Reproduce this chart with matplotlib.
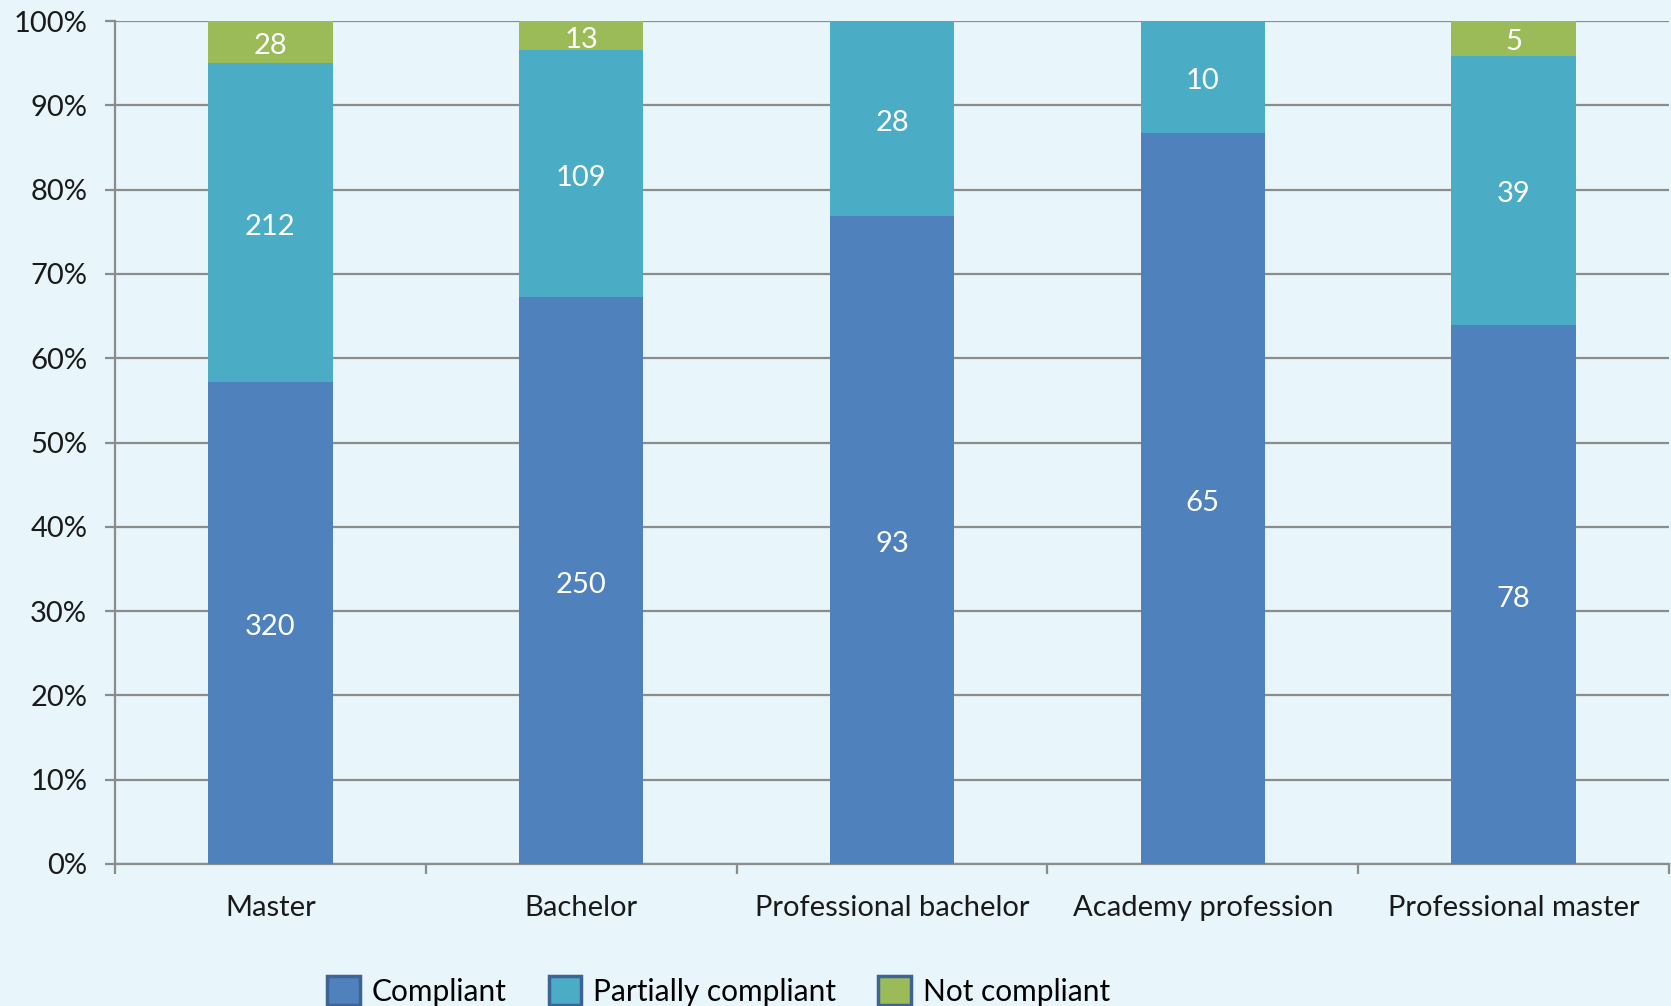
import matplotlib
matplotlib.use("Agg")
import matplotlib.pyplot as plt
import numpy as np
from matplotlib.patches import Patch

categories = ["Master", "Bachelor", "Professional bachelor", "Academy profession", "Professional master"]
compliant = [320, 250, 93, 65, 78]
partially = [212, 109, 28, 10, 39]
not_compliant = [28, 13, 0, 0, 5]
series_names = ["Compliant", "Partially compliant", "Not compliant"]
y_ticks = [0, 10, 20, 30, 40, 50, 60, 70, 80, 90, 100]

colors = ["#4F81BD", "#4BACC6", "#9BBB59"]
bg = "#E8F5FA"

plt.rcParams["font.family"] = ["Lato", "DejaVu Sans"]

fig = plt.figure(figsize=(16.71, 10.06), dpi=100, facecolor=bg)
ax = fig.add_axes([115 / 1671, 1 - 864 / 1006, (1669 - 115) / 1671, (864 - 21) / 1006])
ax.set_facecolor("none")

data = np.array([compliant, partially, not_compliant], dtype=float)
totals = data.sum(axis=0)
pct = data / totals * 100

x = np.arange(len(categories))
bottom = np.zeros(len(categories))
for i, name in enumerate(series_names):
    ax.bar(x, pct[i], 0.4, bottom=bottom, color=colors[i], label=name, zorder=3)
    for j in range(len(categories)):
        if data[i, j] > 0:
            # nudge labels down a little, like the original's text centring
            ax.annotate(f"{int(data[i, j])}", (x[j], bottom[j] + pct[i, j] / 2),
                        xytext=(0, -3), textcoords="offset points",
                        ha="center", va="center", color="white", fontsize=21, zorder=4)
    bottom += pct[i]

ax.set_ylim(0, 100)
ax.set_xlim(-0.5, len(categories) - 0.5)
ax.set_yticks(y_ticks)
ax.set_yticklabels([f"{t}%" for t in y_ticks])
ax.yaxis.grid(True, color="#8c8c8c", linewidth=1.6, zorder=1)
ax.set_axisbelow(True)

ax.set_xticks(x)
ax.set_xticklabels(categories)
ax.set_xticks(np.arange(-0.5, len(categories)), minor=True)
ax.tick_params(axis="x", which="major", length=0, pad=22, labelsize=21, colors="#1a1a1a")
ax.tick_params(axis="x", which="minor", length=7, width=1.6, color="#8c8c8c")
ax.tick_params(axis="y", length=7, width=1.6, color="#8c8c8c", pad=13, labelsize=21,
               labelcolor="#1a1a1a")

for side in ["top", "right"]:
    ax.spines[side].set_visible(False)
for side in ["left", "bottom"]:
    ax.spines[side].set_color("#8c8c8c")
    ax.spines[side].set_linewidth(1.6)

handles = [Patch(facecolor=c, edgecolor="#3d6495", linewidth=2.5) for c in colors]
fig.legend(handles, series_names, loc="center", bbox_to_anchor=(0.430, 1 - 991 / 1006),
           ncol=3, frameon=False, fontsize=21.5, handlelength=1.1, handleheight=1.1,
           handletextpad=0.4, columnspacing=1.4)

fig.savefig("out.png", dpi=100, facecolor=bg)
